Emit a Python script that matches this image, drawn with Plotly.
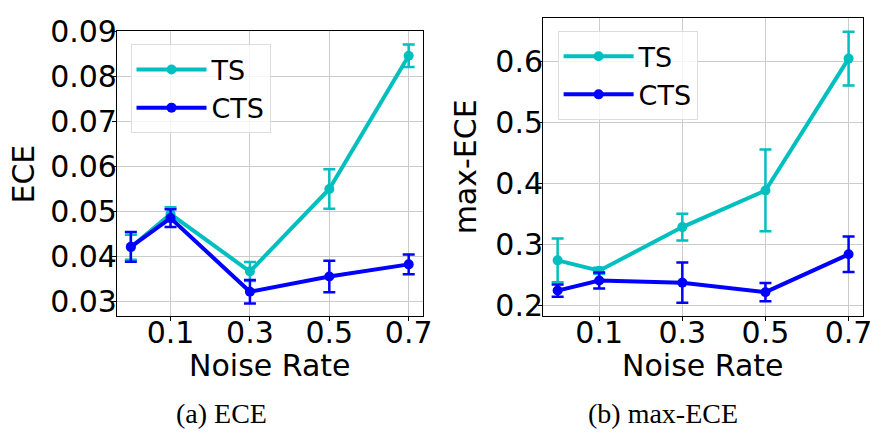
import plotly.graph_objects as go
from plotly.subplots import make_subplots

# ---- data ----
noise_rate = [0.0, 0.1, 0.3, 0.5, 0.7]
x_tick_vals = [0.1, 0.3, 0.5, 0.7]
x_tick_text = ["0.1", "0.3", "0.5", "0.7"]

ece_ts = [0.0420, 0.0494, 0.0366, 0.0550, 0.0847]
ece_ts_err = [0.0028, 0.0015, 0.0021, 0.0044, 0.0025]
ece_cts = [0.0421, 0.0485, 0.0321, 0.0355, 0.0382]
ece_cts_err = [0.0033, 0.0020, 0.0026, 0.0035, 0.0022]

maxece_ts = [0.2735, 0.2566, 0.3280, 0.3880, 0.6040]
maxece_ts_err = [0.0360, 0.0050, 0.0220, 0.0670, 0.0440]
maxece_cts = [0.2240, 0.2406, 0.2370, 0.2214, 0.2834]
maxece_cts_err = [0.0100, 0.0130, 0.0330, 0.0150, 0.0290]

ece_y_ticks = [0.03, 0.04, 0.05, 0.06, 0.07, 0.08, 0.09]
ece_y_text = ["0.03", "0.04", "0.05", "0.06", "0.07", "0.08", "0.09"]
maxece_y_ticks = [0.2, 0.3, 0.4, 0.5, 0.6]
maxece_y_text = ["0.2", "0.3", "0.4", "0.5", "0.6"]

x_title = "Noise Rate"
y_titles = ["ECE", "max-ECE"]
captions = ["(a) ECE", "(b) max-ECE"]

TS_COLOR = "#00BFBF"
CTS_COLOR = "#0000FF"

fig = make_subplots(rows=1, cols=2)

def add_series(col, y, err, name, color, legend):
    fig.add_trace(
        go.Scatter(
            x=noise_rate, y=y, name=name, mode="lines+markers",
            line=dict(color=color, width=4),
            marker=dict(color=color, size=10),
            error_y=dict(type="data", array=err, visible=True,
                         color=color, thickness=2.5, width=6),
            legend=legend,
        ),
        row=1, col=col,
    )

add_series(1, ece_ts, ece_ts_err, "TS", TS_COLOR, "legend")
add_series(1, ece_cts, ece_cts_err, "CTS", CTS_COLOR, "legend")
add_series(2, maxece_ts, maxece_ts_err, "TS", TS_COLOR, "legend2")
add_series(2, maxece_cts, maxece_cts_err, "CTS", CTS_COLOR, "legend2")

W, H = 884, 438
tick_font = dict(family="DejaVu Sans", size=30, color="black")
title_font = dict(family="DejaVu Sans", size=30, color="black")
cap_font = dict(family="Liberation Serif", size=28, color="black")

axis_common = dict(
    showline=True, linecolor="black", linewidth=1, mirror=True,
    showgrid=True, gridcolor="#cccccc", gridwidth=1,
    ticks="outside", ticklen=4, tickcolor="black", tickwidth=1,
    tickfont=tick_font, zeroline=False, ticklabeloverflow="allow",
)

fig.update_xaxes(**axis_common, tickvals=x_tick_vals, ticktext=x_tick_text,
                 range=[-0.035, 0.7357], ticklabelstandoff=-14)
fig.update_xaxes(domain=[118.3 / W, 427.7 / W], row=1, col=1)
fig.update_xaxes(domain=[549.3 / W, 873.3 / W], row=1, col=2)

fig.update_yaxes(**axis_common, ticklabelstandoff=-11)
fig.update_yaxes(domain=[1 - 316 / H, 1 - 15 / H], range=[0.0266, 0.09015],
                 tickvals=ece_y_ticks, ticktext=ece_y_text, row=1, col=1)
fig.update_yaxes(domain=[1 - 316 / H, 1 - 1 / H], range=[0.1817, 0.6706],
                 tickvals=maxece_y_ticks, ticktext=maxece_y_text, row=1, col=2)

legend_style = dict(
    bgcolor="rgba(255,255,255,0.8)", bordercolor="#dddddd", borderwidth=1,
    font=dict(family="DejaVu Sans", size=27, color="black"),
    xanchor="left", yanchor="top", itemwidth=70,
)

def paper_text(text, x, y, font, angle=0):
    return dict(text=text, x=x / W, y=1 - y / H, xref="paper", yref="paper",
                showarrow=False, xanchor="center", yanchor="middle",
                textangle=angle, font=font)

fig.update_layout(
    width=W, height=H,
    margin=dict(l=0, r=0, t=0, b=0),
    paper_bgcolor="white", plot_bgcolor="white",
    legend=dict(**legend_style, x=132 / W, y=1 - 29 / H),
    legend2=dict(**legend_style, x=564 / W, y=1 - 15 / H),
    annotations=[
        paper_text(x_title, 273, 368, title_font),
        paper_text(x_title, 711.5, 368, title_font),
        paper_text(y_titles[0], 24, 165.5, title_font, -90),
        paper_text(y_titles[1], 470.5, 158.5, title_font, -90),
        paper_text(captions[0], 224, 419, cap_font),
        paper_text(captions[1], 670.5, 419, cap_font),
    ],
)

fig.write_html(
    "out.html",
    config={"displayModeBar": False},
    post_script="document.body.style.margin='0';document.body.style.padding='0';",
)
